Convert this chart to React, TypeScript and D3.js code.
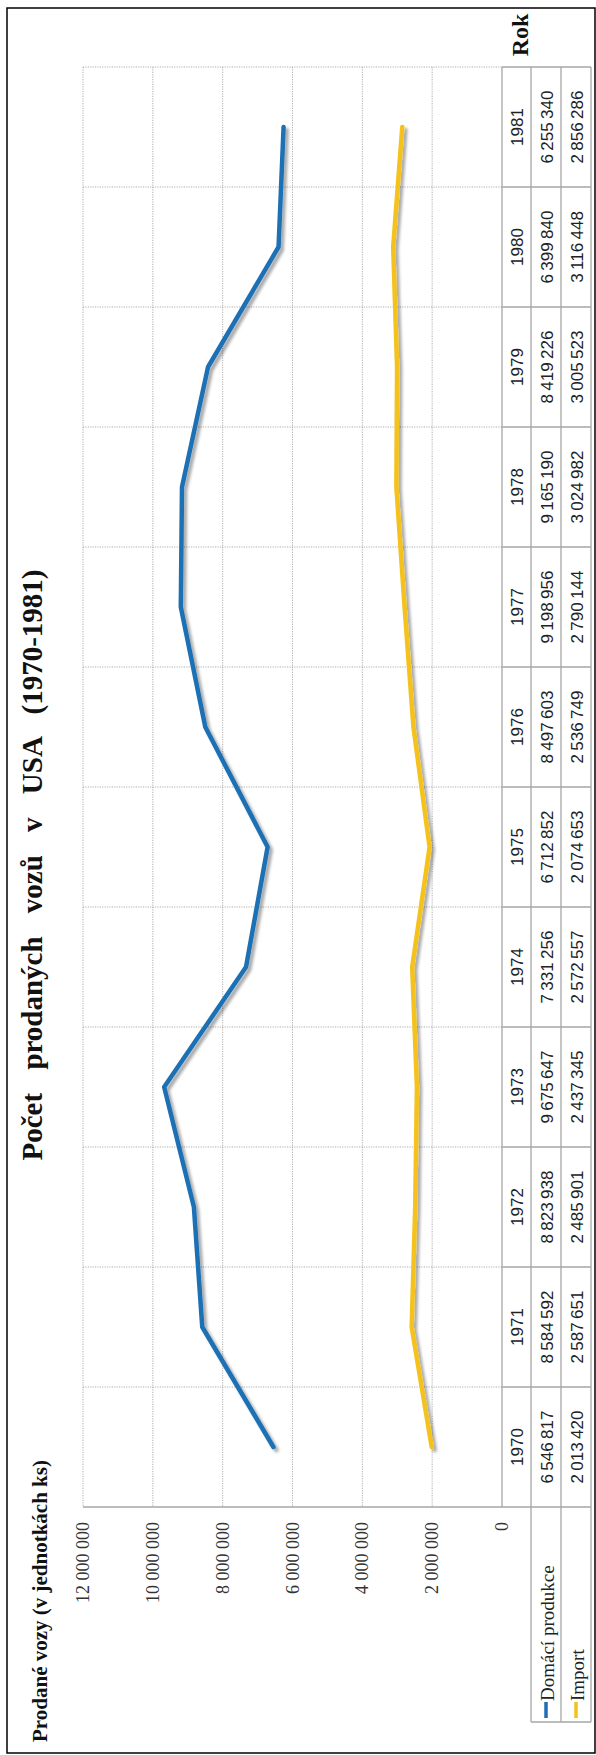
import React from "react";
import * as d3 from "d3";

const years = ["1970","1971","1972","1973","1974","1975","1976","1977","1978","1979","1980","1981"];
const domestic = [6546817, 8584592, 8823938, 9675647, 7331256, 6712852, 8497603, 9198956, 9165190, 8419226, 6399840, 6255340];
const imports = [2013420, 2587651, 2485901, 2437345, 2572557, 2074653, 2536749, 2790144, 3024982, 3005523, 3116448, 2856286];
const valueTicks = [0, 2000000, 4000000, 6000000, 8000000, 10000000, 12000000];
const seriesNames = ["Domácí produkce", "Import"];
const seriesColors = ["#1f6fb4", "#f5c21c"];
const title = "Počet prodaných vozů v USA (1970-1981)";
const axisTitle = "Prodané vozy (v jednotkách ks)";
const tableHeader = "Rok";

const fmt = (v: number) => d3.format(",")(v).replace(/,/g, "\u2009");
const fmtTick = (v: number) => d3.format(",")(v).replace(/,/g, " ");

export default function App() {
  const W = 596, H = 1755;
  const plotLeft = 83, zeroX = 502, top = 67, bottom = 1507;
  const col1 = 531, col2 = 561, col3 = 591;
  const legendBottom = 1722;
  const x = d3.scaleLinear().domain([0, 12000000]).range([zeroX, plotLeft]);
  const y = d3.scaleBand<string>().domain(years).range([bottom, top]).paddingInner(0).paddingOuter(0);
  const bw = y.bandwidth();
  const cy = (yr: string) => (y(yr) as number) + bw / 2;
  const line = d3.line<number>().x((d) => x(d)).y((_, i) => cy(years[i]));
  const series = [domestic, imports];
  const bandTops = years.map((yr) => y(yr) as number);
  const serif = "'Liberation Serif', 'Times New Roman', serif";
  const sans = "'Liberation Sans', Arial, sans-serif";
  const tableGrey = "#a6a6a6";
  const gridGrey = "#9a9a9a";
  const rot = (tx: number, ty: number) => `translate(${tx},${ty}) rotate(-90)`;

  return (
    <svg width={W} height={H} style={{ position: "absolute", left: 0, top: 0, background: "#fff" }}>
      <defs>
        <filter id="shadow" x="-20%" y="-5%" width="140%" height="110%">
          <feGaussianBlur in="SourceAlpha" stdDeviation="1.6" />
          <feOffset dx="3" dy="3" result="b" />
          <feComponentTransfer><feFuncA type="linear" slope="0.35" /></feComponentTransfer>
          <feMerge><feMergeNode /><feMergeNode in="SourceGraphic" /></feMerge>
        </filter>
      </defs>
      <rect x={0} y={0} width={W} height={H} fill="#fff" />
      <rect x={7} y={8} width={588} height={1745} fill="none" stroke="#000" strokeWidth={1.5} />

      {valueTicks.filter((v) => v > 0).map((v) => (
        <line key={"g" + v} x1={x(v)} x2={x(v)} y1={top} y2={bottom} stroke={gridGrey} strokeWidth={0.8} strokeDasharray="1.2,1.2" />
      ))}
      {bandTops.map((b, i) => (
        <line key={"c" + i} x1={plotLeft} x2={zeroX} y1={b} y2={b} stroke={gridGrey} strokeWidth={0.8} strokeDasharray="1.2,1.2" />
      ))}

      {bandTops.map((b, i) => (
        <line key={"t" + i} x1={zeroX} x2={col3} y1={b} y2={b} stroke={tableGrey} strokeWidth={1.3} />
      ))}
      <line x1={plotLeft} x2={col3} y1={bottom} y2={bottom} stroke={tableGrey} strokeWidth={1.3} />
      <line x1={zeroX} x2={zeroX} y1={top} y2={bottom} stroke={tableGrey} strokeWidth={1.3} />
      <line x1={col1} x2={col1} y1={top} y2={legendBottom} stroke={tableGrey} strokeWidth={1.3} />
      <line x1={col2} x2={col2} y1={top} y2={legendBottom} stroke={tableGrey} strokeWidth={1.3} />
      <line x1={col3} x2={col3} y1={top} y2={legendBottom} stroke={tableGrey} strokeWidth={1.3} />
      <line x1={col1} x2={col3} y1={legendBottom} y2={legendBottom} stroke={tableGrey} strokeWidth={1.3} />

      {series.map((s, i) => (
        <path key={"s" + i} d={line(s) || ""} fill="none" stroke={seriesColors[i]} strokeWidth={4.5} strokeLinejoin="round" strokeLinecap="round" filter="url(#shadow)" />
      ))}

      {valueTicks.map((v) => (
        <text key={"vt" + v} transform={rot(x(v), 1522)} textAnchor="end" dominantBaseline="central" fontFamily={serif} fontSize={18} fill="#333">
          {fmtTick(v)}
        </text>
      ))}

      {years.map((yr, i) => (
        <g key={"row" + yr} fontFamily={sans} fontSize={17} fill="#222">
          <text transform={rot((zeroX + col1) / 2 + 1, cy(yr))} textAnchor="middle" dominantBaseline="central">{yr}</text>
          <text transform={rot((col1 + col2) / 2 + 1, cy(yr))} textAnchor="middle" dominantBaseline="central">{fmt(domestic[i])}</text>
          <text transform={rot((col2 + col3) / 2 + 1, cy(yr))} textAnchor="middle" dominantBaseline="central">{fmt(imports[i])}</text>
        </g>
      ))}

      {seriesNames.map((n, i) => {
        const cx = i === 0 ? (col1 + col2) / 2 : (col2 + col3) / 2;
        return (
          <g key={"lg" + i}>
            <line x1={cx} x2={cx} y1={legendBottom - 4} y2={legendBottom - 20} stroke={seriesColors[i]} strokeWidth={3.5} />
            <text transform={rot(cx + 1, legendBottom - 21)} textAnchor="start" dominantBaseline="central" fontFamily={serif} fontSize={19} fill="#222">{n}</text>
          </g>
        );
      })}

      <text transform={rot(32, 865)} textAnchor="middle" dominantBaseline="central" fontFamily={serif} fontWeight="bold" fontSize={29} wordSpacing={16} fill="#111">{title}</text>
      <text transform={rot(40, 1742)} textAnchor="start" dominantBaseline="central" fontFamily={serif} fontWeight="bold" fontSize={21} fill="#111">{axisTitle}</text>
      <text transform={rot(520, 35)} textAnchor="middle" dominantBaseline="central" fontFamily={serif} fontWeight="bold" fontSize={24} fill="#111">{tableHeader}</text>
    </svg>
  );
}
